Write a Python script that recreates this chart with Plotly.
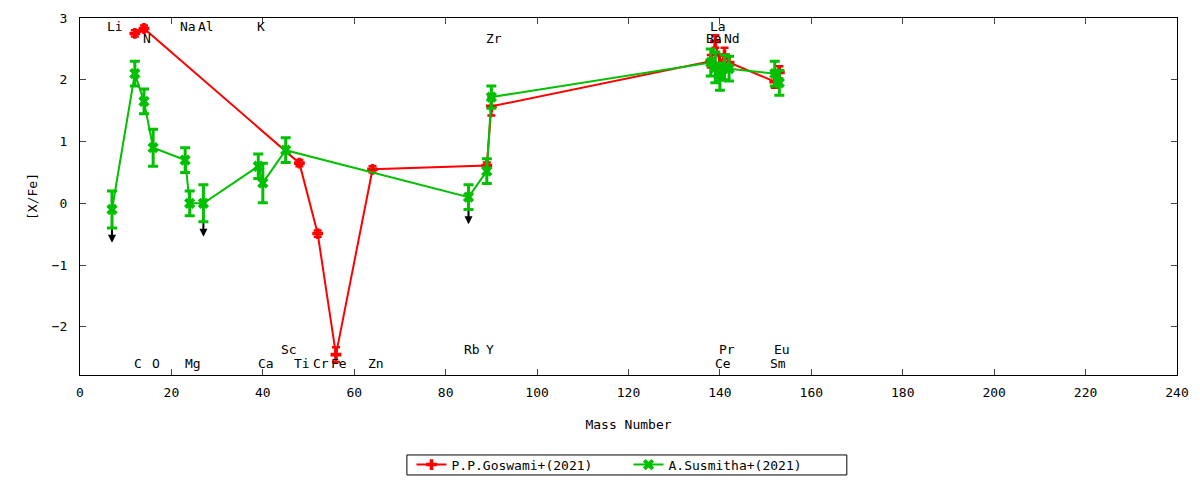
#++++++++++++++++++++++++++++++++++++
# Libraries and modules
#++++++++++++++++++++++++++++++++++++

import plotly.graph_objects as go

#++++++++++++++++++++++++++++++++++++
# Data
#++++++++++++++++++++++++++++++++++++

# P.P.Goswami+(2021)
gos_mass = [12, 14, 48, 52, 56, 64, 89, 90, 138, 139, 140, 141, 142, 152, 153]
gos_xfe  = [2.75, 2.83, 0.65, -0.49, -2.45, 0.55, 0.61, 1.57, 2.30, 2.62, 2.25, 2.40, 2.28, 1.97, 2.12]
gos_err  = [0.05, 0.05, 0.05, 0.05, 0.12, 0.05, 0.05, 0.15, 0.10, 0.10, 0.15, 0.12, 0.10, 0.10, 0.10]

# A.Susmitha+(2021)
sus_mass  = [7, 12, 14, 16, 23, 24, 27, 39, 40, 45, 85, 89, 90, 138, 139, 140, 141, 142, 152, 153]
sus_xfe   = [-0.10, 2.10, 1.65, 0.90, 0.70, 0.00, 0.00, 0.60, 0.33, 0.86, 0.10, 0.52, 1.72,
             2.28, 2.20, 2.05, 2.20, 2.18, 2.10, 1.95]
sus_err   = [0.30, 0.20, 0.20, 0.30, 0.20, 0.20, 0.30, 0.20, 0.32, 0.20, 0.20, 0.20, 0.18,
             0.22, 0.25, 0.22, 0.20, 0.20, 0.20, 0.20]
sus_upper = [7, 27, 85]   # upper limits (arrows)

# element labels: name, mass number, row (0 top, 1 top-lower, 2 bottom-upper, 3 bottom)
elem_name = ["Li", "C", "N", "O", "Na", "Mg", "Al", "K", "Ca", "Sc", "Ti", "Cr", "Fe", "Zn",
             "Rb", "Y", "Zr", "Ba", "La", "Ce", "Pr", "Nd", "Sm", "Eu"]
elem_mass = [7, 12, 14, 16, 23, 24, 27, 39, 40, 45, 48, 52, 56, 64,
             85, 89, 90, 138, 139, 140, 141, 142, 152, 153]
elem_row  = [0, 3, 1, 3, 0, 3, 0, 0, 3, 2, 3, 3, 3, 3,
             2, 2, 1, 1, 0, 3, 2, 1, 3, 2]
ROW_Y = [2.86, 2.67, -2.37, -2.59]

FONT = "DejaVu Sans Mono"
RED = "#ff0000"
GREEN = "#00c000"

#++++++++++++++++++++++++++++++++++++
# Figure
#++++++++++++++++++++++++++++++++++++

fig = go.Figure()

fig.add_trace(go.Scatter(
    x=gos_mass, y=gos_xfe, name="P.P.Goswami+(2021)", mode="lines+markers",
    line=dict(color=RED, width=2),
    marker=dict(symbol="cross", size=9, color=RED),
    error_y=dict(type="data", array=gos_err, color=RED, thickness=2.5, width=4),
))

fig.add_trace(go.Scatter(
    x=sus_mass, y=sus_xfe, name="A.Susmitha+(2021)", mode="lines+markers",
    line=dict(color=GREEN, width=2),
    marker=dict(symbol="x", size=10, color=GREEN),
    error_y=dict(type="data", array=sus_err, color=GREEN, thickness=3, width=5),
))

# upper limit arrows
for m in sus_upper:
    i = sus_mass.index(m)
    tail = sus_xfe[i] - sus_err[i]
    fig.add_annotation(x=m, y=tail - 0.24, ax=m, ay=tail, xref="x", yref="y",
                       axref="x", ayref="y", text="", showarrow=True,
                       arrowhead=2, arrowsize=0.8, arrowwidth=2, arrowcolor="black")

# element labels
for name, m, r in zip(elem_name, elem_mass, elem_row):
    fig.add_annotation(x=m, y=ROW_Y[r], text=name, showarrow=False, xshift=3,
                       font=dict(family=FONT, size=13, color="black"))

# thin key box (plotly's own legend border is taller than gnuplot's)
fig.add_shape(type="rect", xref="paper", yref="paper",
              x0=0.298, x1=0.699, y0=-0.280, y1=-0.224,
              line=dict(color="black", width=1), fillcolor="rgba(0,0,0,0)")

# the page adds an 8px body margin; the figure is made a bit taller than the
# window so the legend has room and does not push the plot area up
fig.update_layout(
    width=1184, height=500,
    margin=dict(l=72, r=15, t=10, b=133),
    paper_bgcolor="white", plot_bgcolor="white",
    font=dict(family=FONT, size=13, color="black"),
    showlegend=True,
    legend=dict(orientation="h", x=0.5, xanchor="center", y=-0.209, yanchor="top",
                bgcolor="rgba(0,0,0,0)", borderwidth=0, entrywidth=172,
                font=dict(family=FONT, size=13)),
    xaxis=dict(range=[0, 240], dtick=20, tick0=0, ticks="inside", ticklen=6,
               showline=True, linecolor="black", linewidth=1, mirror="allticks",
               showgrid=False, zeroline=False, automargin=False,
               tickfont=dict(size=13), ticklabelstandoff=5,
               title=dict(text="Mass Number", standoff=21, font=dict(size=13))),
    yaxis=dict(range=[-2.78, 3.0], dtick=1, tick0=0, ticks="inside", ticklen=6,
               showline=True, linecolor="black", linewidth=1, mirror="allticks",
               showgrid=False, zeroline=False, automargin=False,
               tickfont=dict(size=13), ticklabelstandoff=9,
               title=dict(text="[X/Fe]", standoff=11, font=dict(size=13))),
)

fig.write_html("out.html")
